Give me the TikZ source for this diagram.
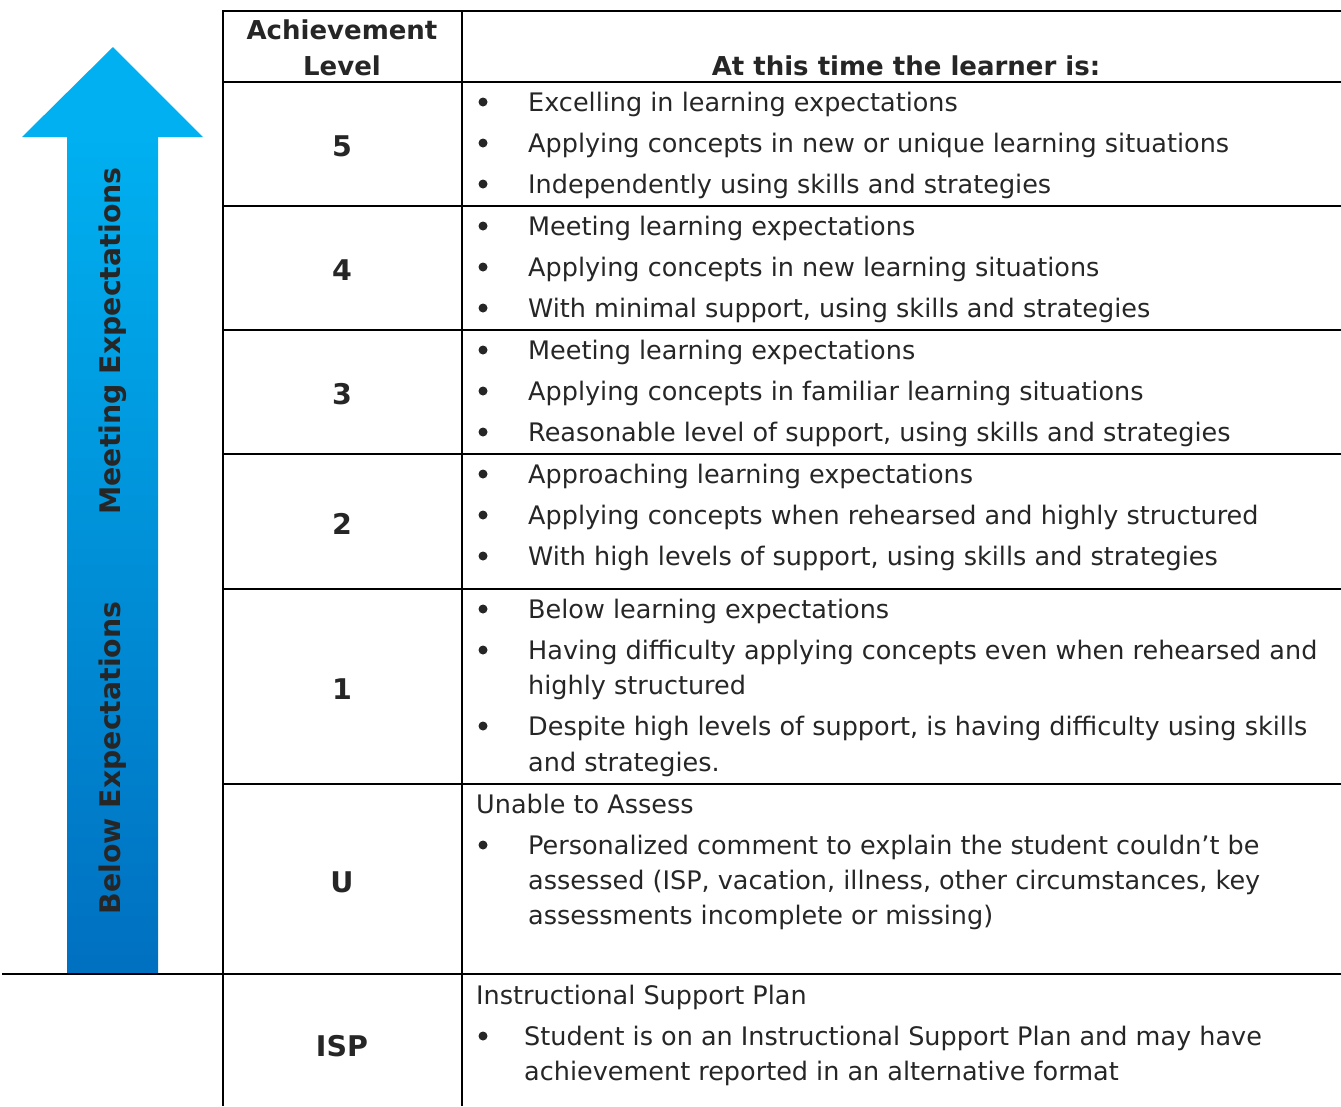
\documentclass[tikz,border=0pt]{standalone}
\usepackage{fontspec}
\setmainfont{DejaVu Sans}
\definecolor{txt}{HTML}{262626}
\definecolor{arrtop}{HTML}{00B0F0}
\definecolor{arrbot}{HTML}{0070C0}
\tikzset{
  body/.style={anchor=base west, inner sep=0pt, text=txt, font=\fontsize{25.5bp}{35bp}\selectfont},
  lvl/.style={anchor=base, inner sep=0pt, text=txt, font=\bfseries\fontsize{26bp}{36bp}\selectfont},
  num/.style={lvl, font=\bfseries\fontsize{28.5bp}{36bp}\selectfont},
  arrtext/.style={rotate=90, inner sep=0pt, text=txt, font=\bfseries\fontsize{28.4bp}{34bp}\selectfont},
  rule/.style={line width=2.4bp, black},
  bulletdot/.style={fill=txt}
}
\newcommand\bulat[1]{\fill[bulletdot] (483,#1) circle (4.5);}
\begin{document}
\begin{tikzpicture}[x=1bp,y=-1bp]
\useasboundingbox (0,0) rectangle (1341,1106);
% arrow
\fill[arrtop] (113,47) -- (203,137) -- (22,137) -- cycle;
\shade[top color=arrtop, bottom color=arrbot] (67,136.5) rectangle (158,974);
\node[arrtext] (meet) at (113,341) {Meeting Expectations};
\node[arrtext] (below) at (113,758) {Below Expectations};
% table rules
\draw[rule] (223,11) -- (1341,11);
\draw[rule] (223,82) -- (1341,82);
\draw[rule] (223,206) -- (1341,206);
\draw[rule] (223,330) -- (1341,330);
\draw[rule] (223,454) -- (1341,454);
\draw[rule] (223,589) -- (1341,589);
\draw[rule] (223,784) -- (1341,784);
\draw[rule] (2,974) -- (1341,974);
\draw[rule] (223,10) -- (223,1106);
\draw[rule] (462,10) -- (462,1106);
% header
\node[lvl] (h1) at (342,39) {Achievement};
\node[lvl] (h2) at (342,75) {Level};
\node[lvl] (h3) at (906,75) {At this time the learner is:};
% levels
\node[num] (l5) at (342,156) {5};
\node[num] (l4) at (342,280) {4};
\node[num] (l3) at (342,404) {3};
\node[num] (l2) at (342,534) {2};
\node[num] (l1) at (342,699) {1};
\node[num] (lu) at (342,892) {U};
\node[num] (lisp) at (342,1056) {ISP};
% row 5
\bulat{102}\bulat{143}\bulat{184}
\node[body] (a1) at (528,111) {Excelling in learning expectations};
\node[body] (a2) at (528,152) {Applying concepts in new or unique learning situations};
\node[body] (a3) at (528,193) {Independently using skills and strategies};
% row 4
\bulat{226}\bulat{267}\bulat{308}
\node[body] (b1) at (528,235) {Meeting learning expectations};
\node[body] (b2) at (528,276) {Applying concepts in new learning situations};
\node[body] (b3) at (528,317) {With minimal support, using skills and strategies};
% row 3
\bulat{350}\bulat{391}\bulat{432}
\node[body] (c1) at (528,359) {Meeting learning expectations};
\node[body] (c2) at (528,400) {Applying concepts in familiar learning situations};
\node[body] (c3) at (528,441) {Reasonable level of support, using skills and strategies};
% row 2
\bulat{474}\bulat{515}\bulat{556}
\node[body] (d1) at (528,483) {Approaching learning expectations};
\node[body] (d2) at (528,524) {Applying concepts when rehearsed and highly structured};
\node[body] (d3) at (528,565) {With high levels of support, using skills and strategies};
% row 1
\bulat{609}\bulat{650}\bulat{726}
\node[body] (e1) at (528,618) {Below learning expectations};
\node[body] (e2) at (528,659) {Having difficulty applying concepts even when rehearsed and};
\node[body] (e3) at (528,694) {highly structured};
\node[body] (e4) at (528,735) {Despite high levels of support, is having difficulty using skills};
\node[body] (e5) at (528,771) {and strategies.};
% row U
\node[body] (u0) at (476,813) {Unable to Assess};
\bulat{845}
\node[body] (u1) at (528,854) {Personalized comment to explain the student couldn’t be};
\node[body] (u2) at (528,889) {assessed (ISP, vacation, illness, other circumstances, key};
\node[body] (u3) at (528,924) {assessments incomplete or missing)};
% row ISP
\node[body] (i0) at (476,1004) {Instructional Support Plan};
\bulat{1036}
\node[body] (i1) at (524,1045) {Student is on an Instructional Support Plan and may have};
\node[body] (i2) at (524,1080) {achievement reported in an alternative format};
\end{tikzpicture}
\end{document}
